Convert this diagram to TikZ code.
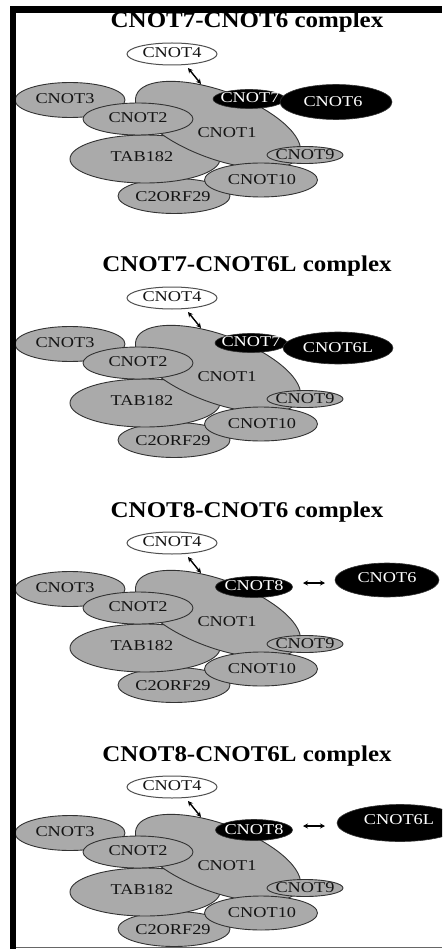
\documentclass[tikz,border=0pt]{standalone}
\usepackage{fontspec}
\setmainfont{Liberation Serif}
\newfontfamily\nodefont[FakeStretch=1.22]{Liberation Serif}
\newfontfamily\ttlfont[FakeStretch=1.11]{Liberation Serif}
\usetikzlibrary{arrows.meta,shapes.geometric}
\definecolor{gfill}{RGB}{170,170,170}
\definecolor{gline}{RGB}{50,50,50}
\definecolor{wline}{RGB}{80,80,80}
\definecolor{txtc}{RGB}{20,20,20}
\tikzset{
 gr/.style={ellipse, draw=gline, fill=gfill, line width=0.9pt, inner sep=0pt},
 wh/.style={ellipse, draw=wline, fill=white, line width=1pt, inner sep=0pt},
 bk/.style={ellipse, draw=black!80, fill=black, line width=0.6pt, inner sep=0pt},
 tx/.style={font=\nodefont\fontsize{15}{15}\selectfont, text=txtc, inner sep=0pt},
 wtx/.style={tx, text=white},
 ttl/.style={font=\ttlfont\bfseries\fontsize{22.5}{22.5}\selectfont, inner sep=0pt, anchor=base},
 arr/.style={{Stealth[length=5pt,width=5pt]}-{Stealth[length=5pt,width=5pt]}, line width=1.4pt},
}
\newcommand\corecx[3]{%
\begin{scope}[shift={(0,#2)}]
\node[ttl] (#1ttl) at (247,28) {#3};
\node[wh, minimum width=90pt, minimum height=22pt] (#1c4) at (172,54) {};
\node[gr, minimum width=110pt, minimum height=35pt] (#1c3) at (70,100) {};
\node[gr, minimum width=112pt, minimum height=35pt] (#1cf) at (174,196) {};
\node[gr, minimum width=150pt, minimum height=48pt] (#1tab) at (145,159) {};
\node[gr, rotate=-20, minimum width=174pt, minimum height=68pt] (#1c1) at (218,125) {};
\node[gr, minimum width=110pt, minimum height=32pt] (#1c2) at (138,119) {};
\node[gr, minimum width=113pt, minimum height=34pt] (#1c10) at (261,180) {};
\node[gr, minimum width=76pt, minimum height=17pt] (#1c9) at (305,155) {};
\node[tx] (#1t4) at (172,53) {CNOT4};
\node[tx] (#1t3) at (65,99) {CNOT3};
\node[tx] (#1t2) at (138,118) {CNOT2};
\node[tx] (#1ttab) at (142,157) {TAB182};
\node[tx] (#1tf) at (173,197) {C2ORF29};
\node[tx] (#1t1) at (227,133) {CNOT1};
\node[tx] (#1t9) at (305,155) {CNOT9};
\node[tx] (#1t10) at (262,180) {CNOT10};
\coordinate (#1a) at (188,68);
\coordinate (#1b) at (201,84);
\draw[arr] (#1a) -- (#1b);
\end{scope}}
\begin{document}
\begin{tikzpicture}[x=1pt,y=-1pt]
\path[use as bounding box, clip] (0,0) rectangle (442,949);
\fill[white] (0,0) rectangle (442,949);
% panel 1
\corecx{p1}{0}{CNOT7-CNOT6 complex}
\node[bk, minimum width=72pt, minimum height=19pt] (p1c7) at (249,99) {};
\node[bk, minimum width=112pt, minimum height=35pt] (p1c6) at (336,102) {};
\node[wtx] (p1t7) at (250,98) {CNOT7};
\node[wtx] (p1t6) at (333,102) {CNOT6};
% panel 2
\corecx{p2}{244}{CNOT7-CNOT6L complex}
\begin{scope}[shift={(0,244)}]
\node[bk, minimum width=72pt, minimum height=19pt] (p2c7) at (251,99) {};
\node[bk, minimum width=110pt, minimum height=32pt] (p2c6) at (338,104) {};
\node[wtx] (p2t7) at (251,98) {CNOT7};
\node[wtx] (p2t6) at (338,104) {CNOT6L};
\end{scope}
% panel 3
\corecx{p3}{489}{CNOT8-CNOT6 complex}
\begin{scope}[shift={(0,489)}]
\node[bk, minimum width=77pt, minimum height=21pt] (p3c8) at (254,98) {};
\node[bk, minimum width=104pt, minimum height=34pt] (p3c6) at (387,91) {};
\node[wtx] (p3t8) at (254,97) {CNOT8};
\node[wtx] (p3t6) at (387,89) {CNOT6};
\coordinate (p3h1) at (303,94);
\coordinate (p3h2) at (325,94);
\draw[arr] (p3h1) -- (p3h2);
\end{scope}
% panel 4
\corecx{p4}{733}{CNOT8-CNOT6L complex}
\begin{scope}[shift={(0,733)}]
\node[bk, minimum width=77pt, minimum height=21pt] (p4c8) at (254,97) {};
\node[bk, minimum width=126pt, minimum height=37pt] (p4c6) at (400,90) {};
\node[wtx] (p4t8) at (254,97) {CNOT8};
\node[wtx] (p4t6) at (399,87) {CNOT6L};
\coordinate (p4h1) at (303,93);
\coordinate (p4h2) at (325,93);
\draw[arr] (p4h1) -- (p4h2);
\end{scope}
% frame
\fill[black] (10,6) rectangle (16,949);
\fill[black] (10,6) rectangle (442,13);
\draw[black!60, line width=1.5pt] (16,947.5) -- (442,947.5);
\end{tikzpicture}
\end{document}
